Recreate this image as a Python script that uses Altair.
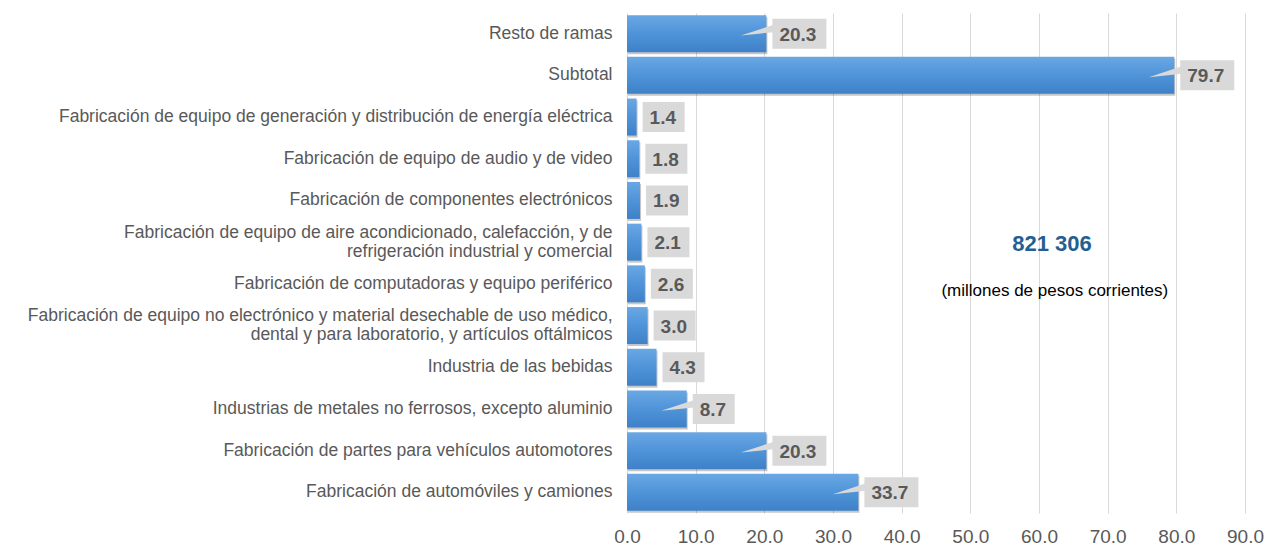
import altair as alt
import pandas as pd

categories = [
    "Resto de ramas ",
    "Subtotal",
    "Fabricación de equipo de generación y distribución de energía eléctrica",
    "Fabricación de equipo de audio y de video",
    "Fabricación de componentes electrónicos",
    "Fabricación de equipo de aire acondicionado, calefacción, y de|refrigeración industrial y comercial",
    "Fabricación de computadoras y equipo periférico",
    "Fabricación de equipo no electrónico y material desechable de uso médico,|dental y para laboratorio, y artículos oftálmicos",
    "Industria de las bebidas",
    "Industrias de metales no ferrosos, excepto aluminio",
    "Fabricación de partes para vehículos automotores",
    "Fabricación de automóviles y camiones",
]
values = [20.3, 79.7, 1.4, 1.8, 1.9, 2.1, 2.6, 3.0, 4.3, 8.7, 20.3, 33.7]
x_ticks = [0, 10, 20, 30, 40, 50, 60, 70, 80, 90]
total_text = "821 306"
unit_text = "(millones de pesos corrientes)"

df = pd.DataFrame({"cat": categories, "val": values})
df["lab"] = df["val"].map(lambda v: f"{v:.1f}")
df["n"] = df["lab"].str.len()

FONT = "Liberation Sans"
GRAY = "#595959"

x_enc = alt.X("val:Q", scale=alt.Scale(domain=[0, 90], nice=False),
              axis=alt.Axis(values=x_ticks, format=".1f", grid=True, gridColor="#D9D9D9",
                            domain=False, ticks=False, labelFontSize=19, labelColor=GRAY,
                            labelFont=FONT, labelPadding=14, labelFlush=False, title=None))
y_enc = alt.Y("cat:N", sort=categories,
              scale=alt.Scale(paddingInner=0.11, paddingOuter=0.05),
              axis=alt.Axis(domain=False, ticks=False, labelFontSize=17.5, labelColor=GRAY,
                            labelFont=FONT, labelPadding=15, labelLimit=700, minExtent=614,
                            labelOffset={"condition": {"test": "indexof(datum.value, '|') >= 0", "value": -9.5},
                                         "value": 0},
                            labelExpr="split(datum.label, '|')", labelLineHeight=19, title=None))

base = alt.Chart(df)

shadow = base.mark_bar(size=37, color="#000000", opacity=0.22, xOffset=1, x2Offset=2, yOffset=2).encode(
    x=x_enc, y=y_enc)

grad = alt.Gradient(gradient="linear",
                    stops=[alt.GradientStop(color="#6AA8E4", offset=0),
                           alt.GradientStop(color="#4F93D8", offset=0.5),
                           alt.GradientStop(color="#3E81C8", offset=1)],
                    x1=0, x2=0, y1=0, y2=1)
bars = base.mark_bar(size=37, color=grad).encode(x=x_enc, y=y_enc)

pointer = base.transform_filter("datum.val >= 8").mark_point(
    shape="M -0.85 0.06 L 0.25 -0.3 L 0.25 -0.05 Z", size=3600, filled=True,
    color="#D9D9D9", opacity=1, strokeWidth=0).encode(x="val:Q", y=alt.Y("cat:N", sort=categories))

box4 = base.transform_filter("datum.n == 4").mark_bar(
    size=30, color="#D9D9D9", xOffset=6, x2Offset=60).encode(
    x="val:Q", x2="val:Q", y=alt.Y("cat:N", sort=categories))
box3 = base.transform_filter("datum.n == 3").mark_bar(
    size=30, color="#D9D9D9", xOffset=6, x2Offset=48).encode(
    x="val:Q", x2="val:Q", y=alt.Y("cat:N", sort=categories))

labels = base.mark_text(align="left", baseline="middle", dx=13, dy=1, font=FONT,
                        fontSize=19, fontWeight="bold", color=GRAY).encode(
    x="val:Q", y=alt.Y("cat:N", sort=categories), text="lab:N")

ann = pd.DataFrame({"t": [total_text, unit_text], "x": [61.9, 62.3]})
ann_total = alt.Chart(ann.iloc[[0]]).mark_text(
    font=FONT, fontSize=22, fontWeight="bold", color="#255E91", align="center",
    baseline="middle").encode(x="x:Q", y=alt.value(231), text="t:N")
ann_unit = alt.Chart(ann.iloc[[1]]).mark_text(
    font=FONT, fontSize=17, color="#000000", align="center",
    baseline="middle").encode(x="x:Q", y=alt.value(278), text="t:N")

chart = alt.layer(shadow, bars, pointer, box4, box3, labels, ann_total, ann_unit).properties(
    width=618, height=500, background="white"
).configure_view(stroke=None)

chart.save("out.html", embed_options={"renderer": "svg", "actions": False})
